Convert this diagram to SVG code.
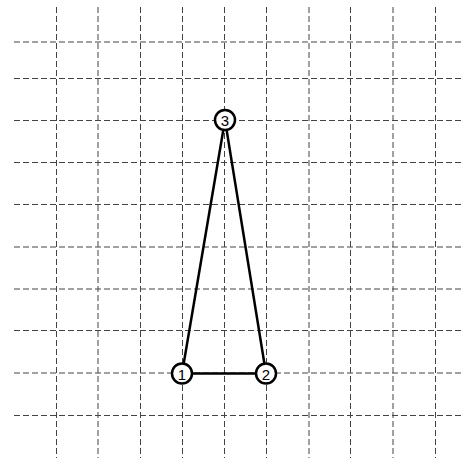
<svg xmlns="http://www.w3.org/2000/svg" width="464" height="458" viewBox="0 0 464 458">
<style>
.grid line{stroke:#444;stroke-width:1;stroke-dasharray:6,3}
.edge{stroke:#000;stroke-width:2.5;fill:none}
.node circle{fill:#fff;stroke:#000;stroke-width:2.5}
.node text{font-family:"Liberation Sans",Arial,sans-serif;font-size:15px;text-anchor:middle;dominant-baseline:central;fill:#000}
</style>
<rect width="464" height="458" fill="#fff"/>
<g class="grid">
<line x1="56.5" y1="7" x2="56.5" y2="458"/>
<line x1="98" y1="7" x2="98" y2="458"/>
<line x1="140.5" y1="7" x2="140.5" y2="458"/>
<line x1="182.5" y1="7" x2="182.5" y2="458"/>
<line x1="224.5" y1="7" x2="224.5" y2="458"/>
<line x1="266.5" y1="7" x2="266.5" y2="458"/>
<line x1="309" y1="7" x2="309" y2="458"/>
<line x1="350.5" y1="7" x2="350.5" y2="458"/>
<line x1="393" y1="7" x2="393" y2="458"/>
<line x1="435.5" y1="7" x2="435.5" y2="458"/>
<line x1="14" y1="42" x2="464" y2="42"/>
<line x1="14" y1="78.5" x2="464" y2="78.5"/>
<line x1="14" y1="120.5" x2="464" y2="120.5"/>
<line x1="14" y1="162.5" x2="464" y2="162.5"/>
<line x1="14" y1="204.5" x2="464" y2="204.5"/>
<line x1="14" y1="247" x2="464" y2="247"/>
<line x1="14" y1="289" x2="464" y2="289"/>
<line x1="14" y1="330.5" x2="464" y2="330.5"/>
<line x1="14" y1="373" x2="464" y2="373"/>
<line x1="14" y1="415.5" x2="464" y2="415.5"/>
</g>
<g id="connectors">
<line class="edge" x1="182" y1="373.5" x2="266" y2="373.5"/>
<line class="edge" x1="182" y1="373.5" x2="225" y2="120"/>
<line class="edge" x1="266" y1="373.5" x2="225" y2="120"/>
</g>
<g id="node1" class="node"><circle cx="182" cy="373.5" r="10"/><text x="182" y="374">1</text></g>
<g id="node2" class="node"><circle cx="266" cy="373.5" r="10"/><text x="266" y="374">2</text></g>
<g id="node3" class="node"><circle cx="225" cy="120" r="10"/><text x="225" y="120.5">3</text></g>
</svg>
